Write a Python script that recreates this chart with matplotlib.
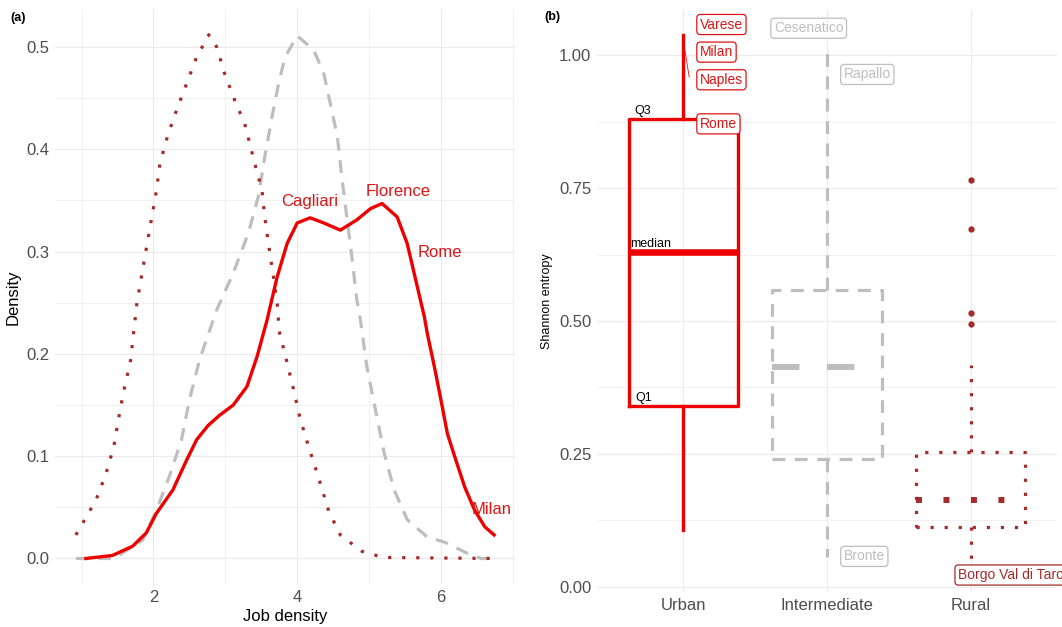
import matplotlib
matplotlib.use('Agg')
import matplotlib.pyplot as plt
from matplotlib.ticker import MultipleLocator, FixedLocator

plt.rcParams['font.family'] = ['Liberation Sans', 'DejaVu Sans']

RED = '#EE0000'
TXT_RED = '#DD1515'
GREY = '#BEBEBE'
BROWN = '#A52A2A'
GRID = '#EBEBEB'
TICK = '#4D4D4D'

# ---- panel (a): job density curves ----
urban_x = [1.06, 1.43, 1.71, 1.90, 2.04, 2.27, 2.46, 2.60, 2.76, 2.92, 3.11, 3.30,
           3.44, 3.58, 3.72, 3.86, 4.00, 4.18, 4.37, 4.60, 4.83, 5.02, 5.18, 5.39,
           5.53, 5.65, 5.77, 5.81, 5.91, 6.00, 6.09, 6.19, 6.33, 6.47, 6.61, 6.74]
urban_y = [0.000, 0.003, 0.012, 0.025, 0.044, 0.067, 0.096, 0.116, 0.130, 0.140, 0.150, 0.168,
           0.197, 0.233, 0.275, 0.308, 0.328, 0.333, 0.328, 0.321, 0.331, 0.342, 0.347, 0.334,
           0.308, 0.272, 0.236, 0.220, 0.187, 0.155, 0.122, 0.100, 0.070, 0.047, 0.031, 0.023]

inter_x = [0.92, 1.45, 1.85, 2.04, 2.22, 2.39, 2.50, 2.64, 2.88, 3.11, 3.32, 3.46, 3.55,
           3.65, 3.74, 3.83, 4.00, 4.23, 4.37, 4.46, 4.56, 4.62, 4.69, 4.76, 4.83, 4.88,
           4.97, 5.09, 5.21, 5.35, 5.53, 5.81, 6.05, 6.37, 6.56, 6.74]
inter_y = [0.000, 0.000, 0.018, 0.047, 0.080, 0.116, 0.155, 0.194, 0.243, 0.279, 0.318, 0.354, 0.393,
           0.432, 0.464, 0.490, 0.511, 0.497, 0.474, 0.445, 0.412, 0.373, 0.334, 0.295, 0.253, 0.233,
           0.187, 0.145, 0.103, 0.067, 0.038, 0.021, 0.016, 0.005, 0.000, 0.000]

rural_x = [0.92, 1.20, 1.34, 1.45, 1.52, 1.59, 1.68, 1.77, 1.90, 1.97, 2.04, 2.09, 2.20,
           2.32, 2.46, 2.60, 2.77, 2.88, 2.99, 3.13, 3.27, 3.41, 3.51, 3.55, 3.61, 3.67,
           3.72, 3.75, 3.85, 3.95, 4.04, 4.16, 4.28, 4.44, 4.60, 4.90, 5.20, 6.74]
rural_y = [0.023, 0.057, 0.083, 0.110, 0.139, 0.165, 0.193, 0.250, 0.303, 0.331, 0.359, 0.386, 0.414,
           0.438, 0.464, 0.490, 0.512, 0.500, 0.474, 0.448, 0.425, 0.386, 0.360, 0.333, 0.303, 0.275,
           0.251, 0.222, 0.194, 0.165, 0.137, 0.109, 0.083, 0.046, 0.023, 0.007, 0.001, 0.000]

city_names = ['Cagliari', 'Florence', 'Rome', 'Milan']
city_x = [4.17, 5.41, 5.99, 6.70]
city_y = [0.349, 0.359, 0.299, 0.048]

# ---- panel (b): Shannon entropy boxplots ----
groups = ['Urban', 'Intermediate', 'Rural']
q1 = [0.340, 0.240, 0.112]
med = [0.630, 0.414, 0.164]
q3 = [0.881, 0.559, 0.253]
whis_lo = [0.107, 0.056, 0.053]
whis_hi = [1.038, 1.016, 0.418]
outliers = [[], [], [0.495, 0.516, 0.673, 0.765]]

lab_names = ['Varese', 'Milan', 'Naples', 'Rome', 'Cesenatico', 'Rapallo', 'Bronte', 'Borgo Val di Taro']
lab_x = [1.116, 1.116, 1.116, 1.116, 1.631, 2.117, 2.117, 2.912]
lab_y = [1.058, 1.006, 0.954, 0.871, 1.051, 0.964, 0.057, 0.022]
lab_col = [TXT_RED] * 4 + [GREY] * 3 + [BROWN]


def minimal(ax):
    for s in ax.spines.values():
        s.set_visible(False)
    ax.tick_params(which='both', length=0, labelsize=12, labelcolor=TICK, pad=4)
    ax.grid(which='major', color=GRID, lw=0.8)
    ax.grid(which='minor', color=GRID, lw=0.5)
    ax.set_axisbelow(True)


fig = plt.figure(figsize=(10.62, 6.27), dpi=100)

# (a)
ax1 = fig.add_axes([0.0518, 0.0675, 0.4331, 0.9179])
minimal(ax1)
ax1.plot(inter_x, inter_y, color=GREY, lw=2.3, dashes=(4, 3))
ax1.plot(rural_x, rural_y, color=BROWN, lw=2.3, dashes=(1, 3.4))
ax1.plot(urban_x, urban_y, color=RED, lw=2.4, solid_joinstyle='round')
for n, x, y in zip(city_names, city_x, city_y):
    ax1.text(x, y, n, color=TXT_RED, fontsize=12, ha='center', va='center')
ax1.set_xlim(0.63, 7.03)
ax1.set_ylim(-0.0256, 0.537)
ax1.xaxis.set_major_locator(FixedLocator([2, 4, 6]))
ax1.xaxis.set_minor_locator(FixedLocator([1, 3, 5, 7]))
ax1.yaxis.set_major_locator(MultipleLocator(0.1))
ax1.yaxis.set_minor_locator(MultipleLocator(0.05))
ax1.set_xlabel('Job density', fontsize=12, labelpad=3)
ax1.set_ylabel('Density', fontsize=12, labelpad=4)

# (b)
ax2 = fig.add_axes([0.5621, 0.0558, 0.4331, 0.928])
minimal(ax2)
styles = [
    dict(color=RED, lw=2.4, ls='-', mlw=4.7, mdash=None),
    dict(color=GREY, lw=2.3, ls=(0, (4, 3)), mlw=4.3, mdash=(0, (4.6, 4.6))),
    dict(color=BROWN, lw=2.3, ls=(0, (1, 3.4)), mlw=4.3, mdash=(0, (1, 3.6))),
]
for i, st in enumerate(styles):
    stats = [dict(q1=q1[i], med=med[i], q3=q3[i], whislo=whis_lo[i],
                  whishi=whis_hi[i], fliers=outliers[i])]
    lp = dict(color=st['color'], lw=st['lw'], linestyle=st['ls'])
    mp = dict(color=st['color'], lw=st['mlw'],
              linestyle=st['mdash'] if st['mdash'] else '-', solid_capstyle='butt')
    ax2.bxp(stats, positions=[i + 1], widths=0.76, showcaps=False,
            boxprops=lp, whiskerprops=lp, medianprops=mp,
            flierprops=dict(marker='o', markersize=3.5, markerfacecolor=BROWN,
                            markeredgecolor=BROWN))

for n, x, y, c in zip(lab_names, lab_x, lab_y, lab_col):
    ax2.text(x, y, n, color=c, fontsize=10, ha='left', va='center', clip_on=False,
             bbox=dict(boxstyle='round,pad=0.22,rounding_size=0.25', fc='white',
                       ec=c, lw=0.9))
ax2.plot([1.012, 1.042], [1.009, 0.959], color=TXT_RED, lw=0.6)

ax2.text(0.659, 0.884, 'Q3', fontsize=9, ha='left', va='bottom')
ax2.text(0.629, 0.634, 'median', fontsize=9, ha='left', va='bottom')
ax2.text(0.664, 0.344, 'Q1', fontsize=9, ha='left', va='bottom')

ax2.set_xlim(0.4, 3.6)
ax2.set_ylim(-0.010, 1.085)
ax2.set_xticks([1, 2, 3])
ax2.set_xticklabels(groups)
ax2.yaxis.set_major_locator(MultipleLocator(0.25))
ax2.yaxis.set_minor_locator(FixedLocator([0.125, 0.375, 0.625, 0.875]))
ax2.yaxis.set_major_formatter(matplotlib.ticker.FormatStrFormatter('%.2f'))
ax2.set_ylabel('Shannon entropy', fontsize=9, labelpad=4)

fig.text(0.0094, 1 - 18 / 627, '(a)', fontsize=9, fontweight='bold', va='center')
fig.text(0.513, 1 - 17 / 627, '(b)', fontsize=9, fontweight='bold', va='center')

fig.savefig('out.png', dpi=100)
